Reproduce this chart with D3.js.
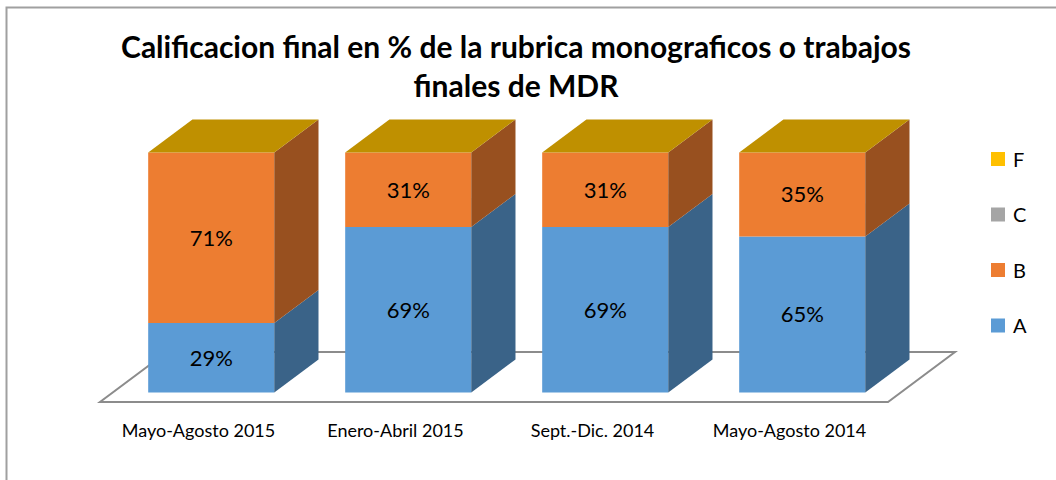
<!DOCTYPE html>
<html>
<head>
<meta charset="utf-8">
<script src="https://cdn.jsdelivr.net/npm/d3@7"></script>
<style>
  body { margin: 0; background: #fff; }
  text { font-family: Lato, "Open Sans", sans-serif; fill: #000; }
</style>
</head>
<body>
<div id="chart"></div>
<script>
var svgWidth = 1056;
var svgHeight = 480;

// data
var categories = ["Mayo-Agosto 2015", "Enero-Abril 2015", "Sept.-Dic. 2014", "Mayo-Agosto 2014"];
var seriesNames = ["A", "B", "C", "F"];
var valuesA = [29, 69, 69, 65];
var valuesB = [71, 31, 31, 35];
var valuesC = [0, 0, 0, 0];
var valuesF = [0, 0, 0, 0];
var seriesColors = ["#5B9BD5", "#ED7D31", "#A5A5A5", "#FFC000"];
var titleLines = ["Calificacion final en % de la rubrica monograficos o trabajos", "finales de MDR"];

// floor of the 3d plot
var floor = { left: 100, right: 888, y: 402, dx: 67, dy: -50 };
var barZ0 = 0.19, barZ1 = 0.85;   // depth range occupied by the bars (0..1 of floor)

var svg = d3.select("#chart").append("svg")
  .attr("width", svgWidth)
  .attr("height", svgHeight);

// chart area border (runs off the picture on right/bottom)
svg.append("rect")
  .attr("x", 6.5).attr("y", 7.5)
  .attr("width", 1100).attr("height", 600)
  .attr("fill", "none")
  .attr("stroke", "#a0a0a0")
  .attr("stroke-width", 2);

// title
svg.append("text")
  .attr("text-anchor", "middle")
  .attr("font-size", "30px")
  .attr("font-weight", "bold")
  .selectAll("tspan").data(titleLines).enter()
  .append("tspan")
  .attr("x", 516)
  .attr("y", (d, i) => 58 + i * 39)
  .text(d => d);

var x = d3.scaleBand()
  .domain(categories)
  .range([floor.left, floor.right])
  .paddingInner(0.36)
  .paddingOuter(0.18);

var y = d3.scaleLinear()
  .domain([0, 100])
  .range([0, 240]);

// project a point (x on front floor edge, height in px, depth 0..1)
function proj(px, h, z) {
  return [px + z * floor.dx, floor.y - h + z * floor.dy];
}
function shade(c, k) {
  var r = d3.rgb(c);
  return d3.rgb(r.r * k, r.g * k, r.b * k).formatHex();
}
function poly(pts) {
  return "M" + pts.map(p => p.join(",")).join("L") + "Z";
}

// floor parallelogram
svg.append("path")
  .attr("d", poly([
    proj(floor.left, 0, 0), proj(floor.right, 0, 0),
    proj(floor.right, 0, 1), proj(floor.left, 0, 1)
  ]))
  .attr("fill", "#fff")
  .attr("stroke", "#8c8c8c")
  .attr("stroke-width", 2);

// stack the series
var table = categories.map((c, i) => ({
  cat: c, A: valuesA[i], B: valuesB[i], C: valuesC[i], F: valuesF[i]
}));
var stacked = d3.stack().keys(seriesNames)(table);

var bars = svg.selectAll("g.bar").data(categories).enter()
  .append("g").attr("class", "bar");

bars.each(function(cat, ci) {
  var g = d3.select(this);
  var x0 = x(cat), x1 = x(cat) + x.bandwidth();
  stacked.forEach(function(s, si) {
    var v0 = y(s[ci][0]), v1 = y(s[ci][1]);
    if (v1 - v0 <= 0) return;
    // front face
    g.append("path")
      .attr("d", poly([proj(x0, v0, barZ0), proj(x1, v0, barZ0), proj(x1, v1, barZ0), proj(x0, v1, barZ0)]))
      .attr("fill", seriesColors[si]);
    // right side
    g.append("path")
      .attr("d", poly([proj(x1, v0, barZ0), proj(x1, v0, barZ1), proj(x1, v1, barZ1), proj(x1, v1, barZ0)]))
      .attr("fill", shade(seriesColors[si], 0.64));
  });
  // top face takes the colour of the top series
  var topH = y(stacked[stacked.length - 1][ci][1]);
  g.append("path")
    .attr("d", poly([proj(x0, topH, barZ0), proj(x1, topH, barZ0), proj(x1, topH, barZ1), proj(x0, topH, barZ1)]))
    .attr("fill", shade(seriesColors[seriesColors.length - 1], 0.75));
  // data labels
  stacked.forEach(function(s, si) {
    var val = s[ci][1] - s[ci][0];
    if (val <= 0) return;
    var p = proj((x0 + x1) / 2, y((s[ci][0] + s[ci][1]) / 2), barZ0);
    g.append("text")
      .attr("x", p[0]).attr("y", p[1])
      .attr("dy", "0.36em")
      .attr("text-anchor", "middle")
      .attr("font-size", "22px")
      .text(val + "%");
  });
});

// category labels
svg.selectAll("text.cat").data(categories).enter()
  .append("text")
  .attr("class", "cat")
  .attr("x", d => x(d) + x.bandwidth() / 2)
  .attr("y", 437)
  .attr("text-anchor", "middle")
  .attr("font-size", "18px")
  .text(d => d);

// legend (reverse order, F on top)
var legend = svg.selectAll("g.legend").data(seriesNames.slice().reverse()).enter()
  .append("g").attr("class", "legend")
  .attr("transform", (d, i) => `translate(991, ${152 + i * 55.5})`);
legend.append("rect")
  .attr("width", 14).attr("height", 14)
  .attr("fill", d => seriesColors[seriesNames.indexOf(d)]);
legend.append("text")
  .attr("x", 22).attr("y", 14.5)
  .attr("font-size", "20px")
  .text(d => d);
</script>
</body>
</html>
